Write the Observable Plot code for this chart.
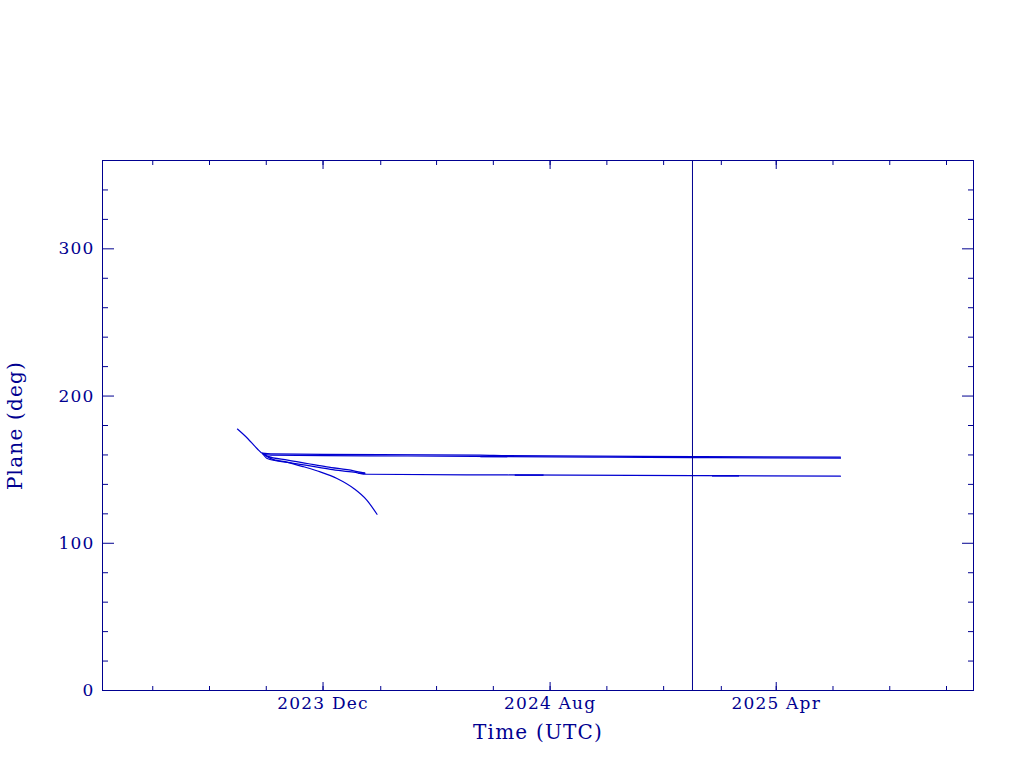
<!DOCTYPE html>
<html>
<head>
<meta charset="utf-8">
<script src="https://cdn.jsdelivr.net/npm/d3@7"></script>
<script src="https://cdn.jsdelivr.net/npm/@observablehq/plot@0.6"></script>
<style>
  html, body { margin: 0; padding: 0; background: #ffffff; }
  #chart { width: 1024px; height: 768px; }
</style>
</head>
<body>
<div id="chart"></div>
<script>
// ---- Data ----
const xLabel = "Time (UTC)";
const yLabel = "Plane (deg)";
const xDomain = ["2023-04-08", "2025-10-30"];
const yDomain = [0, 360];
const xMajorTicks = ["2023-12-01", "2024-08-01", "2025-04-01"];
const xMinorTicks = ["2023-06-01", "2023-08-01", "2023-10-01", "2023-12-01", "2024-02-01", "2024-04-01",
  "2024-06-01", "2024-08-01", "2024-10-01", "2024-12-01", "2025-02-01", "2025-04-01",
  "2025-06-01", "2025-08-01", "2025-10-01"];
const yMajorTicks = [0, 100, 200, 300];
const yMinorTicks = [20, 40, 60, 80, 120, 140, 160, 180, 220, 240, 260, 280, 320, 340];
const markerDate = "2025-01-01";

// upper plateau (object A)
const s1Dates  = ["2023-08-31", "2023-09-11", "2023-09-21", "2023-09-27", "2023-10-06", "2023-12-01", "2024-03-01", "2024-06-16", "2024-10-01", "2025-01-02", "2025-06-09"];
const s1Values = [177.6, 171.2, 164.4, 161.0, 159.9, 159.6, 159.3, 158.9, 158.5, 158.2, 157.8];
// upper plateau (object B, nearly coincident)
const s2Dates  = ["2023-09-27", "2023-10-06", "2023-12-01", "2024-05-18", "2024-06-16", "2025-01-02", "2025-06-09"];
const s2Values = [161.2, 160.7, 160.4, 159.9, 159.5, 158.9, 158.5];
// upper-middle descending branch
const s3Dates  = ["2023-09-27", "2023-10-02", "2023-10-24", "2023-11-14", "2023-12-05", "2024-01-03", "2024-01-15"];
const s3Values = [161.0, 159.2, 156.5, 154.2, 151.9, 149.2, 147.6];
// lower-middle branch then lower plateau
const s4Dates  = ["2023-09-27", "2023-10-02", "2023-10-24", "2023-11-14", "2023-12-09", "2024-01-03", "2024-01-17", "2024-06-16", "2025-01-02", "2025-06-09"];
const s4Values = [161.0, 157.6, 154.9, 152.9, 150.2, 148.3, 146.9, 146.4, 145.9, 145.6];
// lowest decaying branch
const s5Dates  = ["2023-09-27", "2023-10-06", "2023-10-24", "2023-11-10", "2023-11-28", "2023-12-16", "2024-01-03", "2024-01-17", "2024-01-28"];
const s5Values = [161.0, 157.5, 155.0, 152.0, 148.5, 144.0, 137.2, 129.3, 119.7];
// short overlapping segments
const stubStart = ["2024-05-18", "2024-12-15", "2024-06-24", "2025-01-22", "2024-01-08"];
const stubEnd   = ["2024-06-16", "2025-01-16", "2024-07-25", "2025-02-20", "2024-01-15"];
const stubValue = [158.9, 158.7, 146.3, 145.8, 147.6];

// ---- build table ----
const parse = d3.utcParse("%Y-%m-%d");
const rows = [];
[[s1Dates, s1Values, "s1"], [s2Dates, s2Values, "s2"], [s3Dates, s3Values, "s3"], [s4Dates, s4Values, "s4"], [s5Dates, s5Values, "s5"]]
  .forEach(([ds, vs, id]) => ds.forEach((d, i) => rows.push({date: parse(d), value: vs[i], id})));
const stubs = stubStart.map((d, i) => ({x1: parse(d), x2: parse(stubEnd[i]), y: stubValue[i]}));

const axisCol = "#000090";
const lineCol = "#0000d0";
const fmt = d3.utcFormat("%Y %b");
const xMaj = xMajorTicks.map(parse), xMin = xMinorTicks.map(parse);

const chart = Plot.plot({
  width: 1024,
  height: 768,
  marginLeft: 102,
  marginRight: 51,
  marginTop: 160,
  marginBottom: 78,
  style: {fontFamily: "DejaVu Serif", fontSize: "17px", letterSpacing: "1.2px", color: axisCol, background: "#ffffff"},
  x: {type: "utc", domain: xDomain.map(parse)},
  y: {domain: yDomain},
  marks: [
    Plot.line(rows, {x: "date", y: "value", z: "id", stroke: lineCol, strokeWidth: 1.2, curve: "monotone-x"}),
    Plot.link(stubs, {x1: "x1", x2: "x2", y1: "y", y2: "y", stroke: lineCol, strokeWidth: 1.5}),
    Plot.ruleX([parse(markerDate)], {stroke: axisCol, strokeWidth: 1}),
    Plot.frame({stroke: axisCol, strokeWidth: 1}),
    // x labels
    Plot.axisX({ticks: xMaj, anchor: "bottom", tickSize: 0, tickPadding: 6, tickFormat: fmt, label: null}),
    // x ticks (inward), bottom and top
    Plot.axisX({ticks: xMaj, anchor: "bottom", tickSize: -8, fill: "none", label: null}),
    Plot.axisX({ticks: xMin, anchor: "bottom", tickSize: -4, fill: "none", label: null}),
    Plot.axisX({ticks: xMaj, anchor: "top", tickSize: -8, fill: "none", label: null}),
    Plot.axisX({ticks: xMin, anchor: "top", tickSize: -4, fill: "none", label: null}),
    // y labels
    Plot.axisY({ticks: yMajorTicks, anchor: "left", tickSize: 0, tickPadding: 8, tickFormat: d => String(d), label: null}),
    Plot.axisY({ticks: yMajorTicks, anchor: "left", tickSize: -12, fill: "none", label: null}),
    Plot.axisY({ticks: yMinorTicks, anchor: "left", tickSize: -6, fill: "none", label: null}),
    Plot.axisY({ticks: yMajorTicks, anchor: "right", tickSize: -12, fill: "none", label: null}),
    Plot.axisY({ticks: yMinorTicks, anchor: "right", tickSize: -6, fill: "none", label: null}),
    // axis titles
    Plot.text([xLabel], {frameAnchor: "bottom", dy: 42, fontSize: 20, fill: axisCol, lineAnchor: "middle", textAnchor: "middle"}),
    Plot.text([yLabel], {frameAnchor: "left", dx: -87, rotate: -90, fontSize: 20, fill: axisCol, lineAnchor: "middle", textAnchor: "middle"})
  ]
});
document.getElementById("chart").appendChild(chart);
</script>
</body>
</html>
